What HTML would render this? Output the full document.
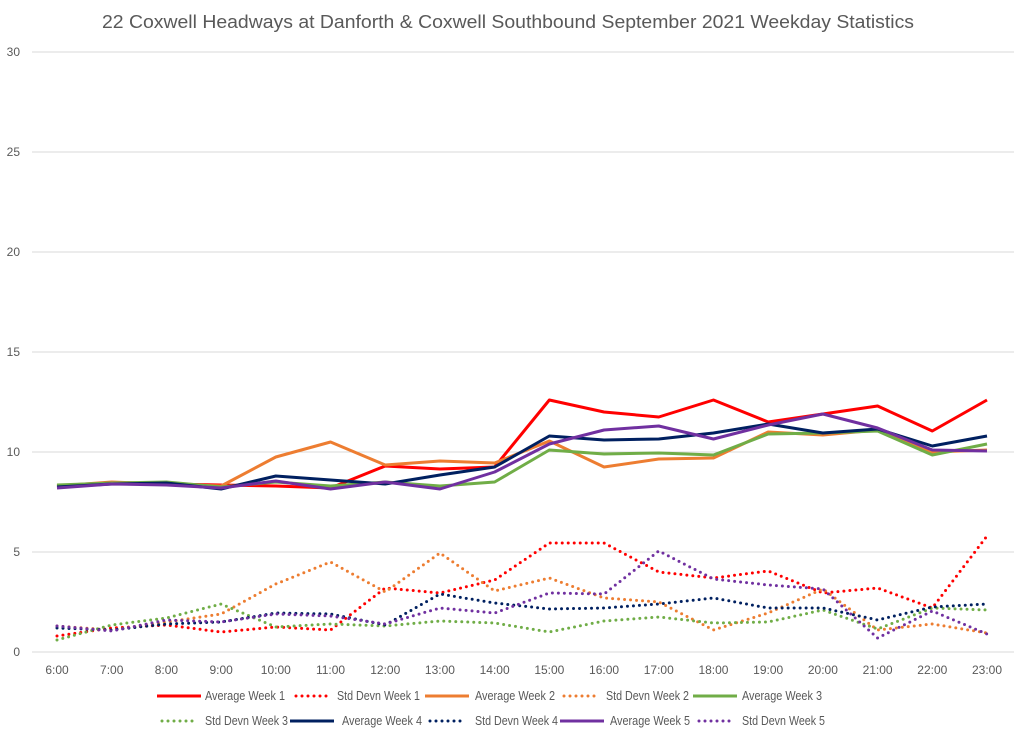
<!DOCTYPE html>
<html><head><meta charset="utf-8"><style>
body{margin:0;background:#fff;font-family:"Liberation Sans",sans-serif}
svg text{font-family:"Liberation Sans",sans-serif;fill:#595959}
</style></head><body>
<svg width="1024" height="742">
<text x="102" y="28" font-size="18.5" textLength="812" lengthAdjust="spacingAndGlyphs">22 Coxwell Headways at Danforth &amp; Coxwell Southbound September 2021 Weekday Statistics</text>
<g id="grid"></g><g id="series"></g><g id="legend"></g>
</svg>
<script>
const categories=["6:00","7:00","8:00","9:00","10:00","11:00","12:00","13:00","14:00","15:00","16:00","17:00","18:00","19:00","20:00","21:00","22:00","23:00"];
const yTicks=[0,5,10,15,20,25,30];
const avgW1=[8.3,8.45,8.4,8.35,8.3,8.2,9.3,9.15,9.25,12.6,12.0,11.75,12.6,11.5,11.9,12.3,11.05,12.6];
const stdW1=[0.8,1.2,1.35,1.0,1.25,1.1,3.2,2.95,3.6,5.45,5.45,4.0,3.7,4.05,2.95,3.2,2.2,5.8];
const avgW2=[8.3,8.5,8.4,8.3,9.75,10.5,9.35,9.55,9.45,10.55,9.25,9.65,9.7,11.0,10.85,11.1,10.0,10.1];
const stdW2=[1.3,1.1,1.5,1.9,3.4,4.5,3.0,4.95,3.05,3.7,2.7,2.5,1.1,1.95,3.15,1.1,1.4,0.95];
const avgW3=[8.35,8.45,8.5,8.25,8.5,8.3,8.5,8.3,8.5,10.1,9.9,9.95,9.85,10.9,10.95,11.05,9.85,10.4];
const stdW3=[0.6,1.35,1.7,2.4,1.25,1.4,1.3,1.55,1.45,1.0,1.55,1.75,1.45,1.5,2.1,1.15,2.2,2.1];
const avgW4=[8.25,8.4,8.45,8.15,8.8,8.6,8.4,8.85,9.25,10.8,10.6,10.65,10.95,11.4,10.95,11.15,10.3,10.8];
const stdW4=[1.2,1.1,1.4,1.5,1.95,1.9,1.35,2.9,2.45,2.15,2.2,2.4,2.7,2.2,2.2,1.6,2.25,2.4];
const avgW5=[8.2,8.4,8.35,8.2,8.55,8.15,8.5,8.15,9.0,10.4,11.1,11.3,10.65,11.35,11.9,11.2,10.1,10.05];
const stdW5=[1.3,1.05,1.6,1.5,1.9,1.8,1.4,2.2,1.95,2.95,2.9,5.05,3.65,3.35,3.15,0.7,2.05,0.9];
const NS="http://www.w3.org/2000/svg";
const x0=57,x1=987,yb=652,yt=52,ymax=30;
const xs=i=>x0+i*(x1-x0)/(categories.length-1);
const ys=v=>yb-v*(yb-yt)/ymax;
function mk(t,a,p){const e=document.createElementNS(NS,t);for(const k in a)e.setAttribute(k,a[k]);p.appendChild(e);return e;}
const grid=document.getElementById('grid');
yTicks.forEach(v=>{
 const l=mk('line',{x1:32,x2:1014,y1:ys(v),y2:ys(v),stroke:'#d9d9d9','stroke-width':1},grid);
 
 
 const t=mk('text',{x:20,y:ys(v)+4,'font-size':12,'text-anchor':'end'},grid);t.textContent=v;
 
 
});
categories.forEach((c,i)=>{
 const t=mk('text',{x:xs(i),y:674,'font-size':12,'text-anchor':'middle'},grid);t.textContent=c;
 
 
});
const series=[
 ["Average Week 1",avgW1,"#ff0000",false],["Std Devn Week 1",stdW1,"#ff0000",true],
 ["Average Week 2",avgW2,"#ed7d31",false],["Std Devn Week 2",stdW2,"#ed7d31",true],
 ["Average Week 3",avgW3,"#70ad47",false],["Std Devn Week 3",stdW3,"#70ad47",true],
 ["Average Week 4",avgW4,"#002060",false],["Std Devn Week 4",stdW4,"#002060",true],
 ["Average Week 5",avgW5,"#7030a0",false],["Std Devn Week 5",stdW5,"#7030a0",true]];
const sg=document.getElementById('series');
series.forEach(([n,d,c,dot])=>{
 const a={points:d.map((v,i)=>xs(i)+','+ys(v)).join(' '),fill:'none',stroke:c,'stroke-width':3,'stroke-linejoin':'round'};
 if(dot){a['stroke-dasharray']='0 6';a['stroke-linecap']='round';}
 const p=mk('polyline',a,sg);
 
 
});
const lg=document.getElementById('legend');
const lineX=[[157,294,425,562,693],[160,290,428,560,697]];
const textX=[[205,337,475,606,742],[205,342,475,610,742]];
const ly=[700,725];
series.forEach(([n,d,c,dot],k)=>{
 const row=k<5?0:1,col=k%5;
 const g=mk('g',{},lg);
 
 
 const bx=lineX[row][col],y=ly[row];
 const a={x1:bx,x2:bx+44,y1:y-4,y2:y-4,stroke:c,'stroke-width':3};
 if(dot){a['stroke-dasharray']='0 6';a['stroke-linecap']='round';a.x1=bx+2;a.x2=bx+36;}
 mk('line',a,g);
 const t=mk('text',{x:textX[row][col],y:y,'font-size':12.5,textLength:n.startsWith('Std')?83:80,lengthAdjust:'spacingAndGlyphs'},g);t.textContent=n;
});
</script>
</body></html>
